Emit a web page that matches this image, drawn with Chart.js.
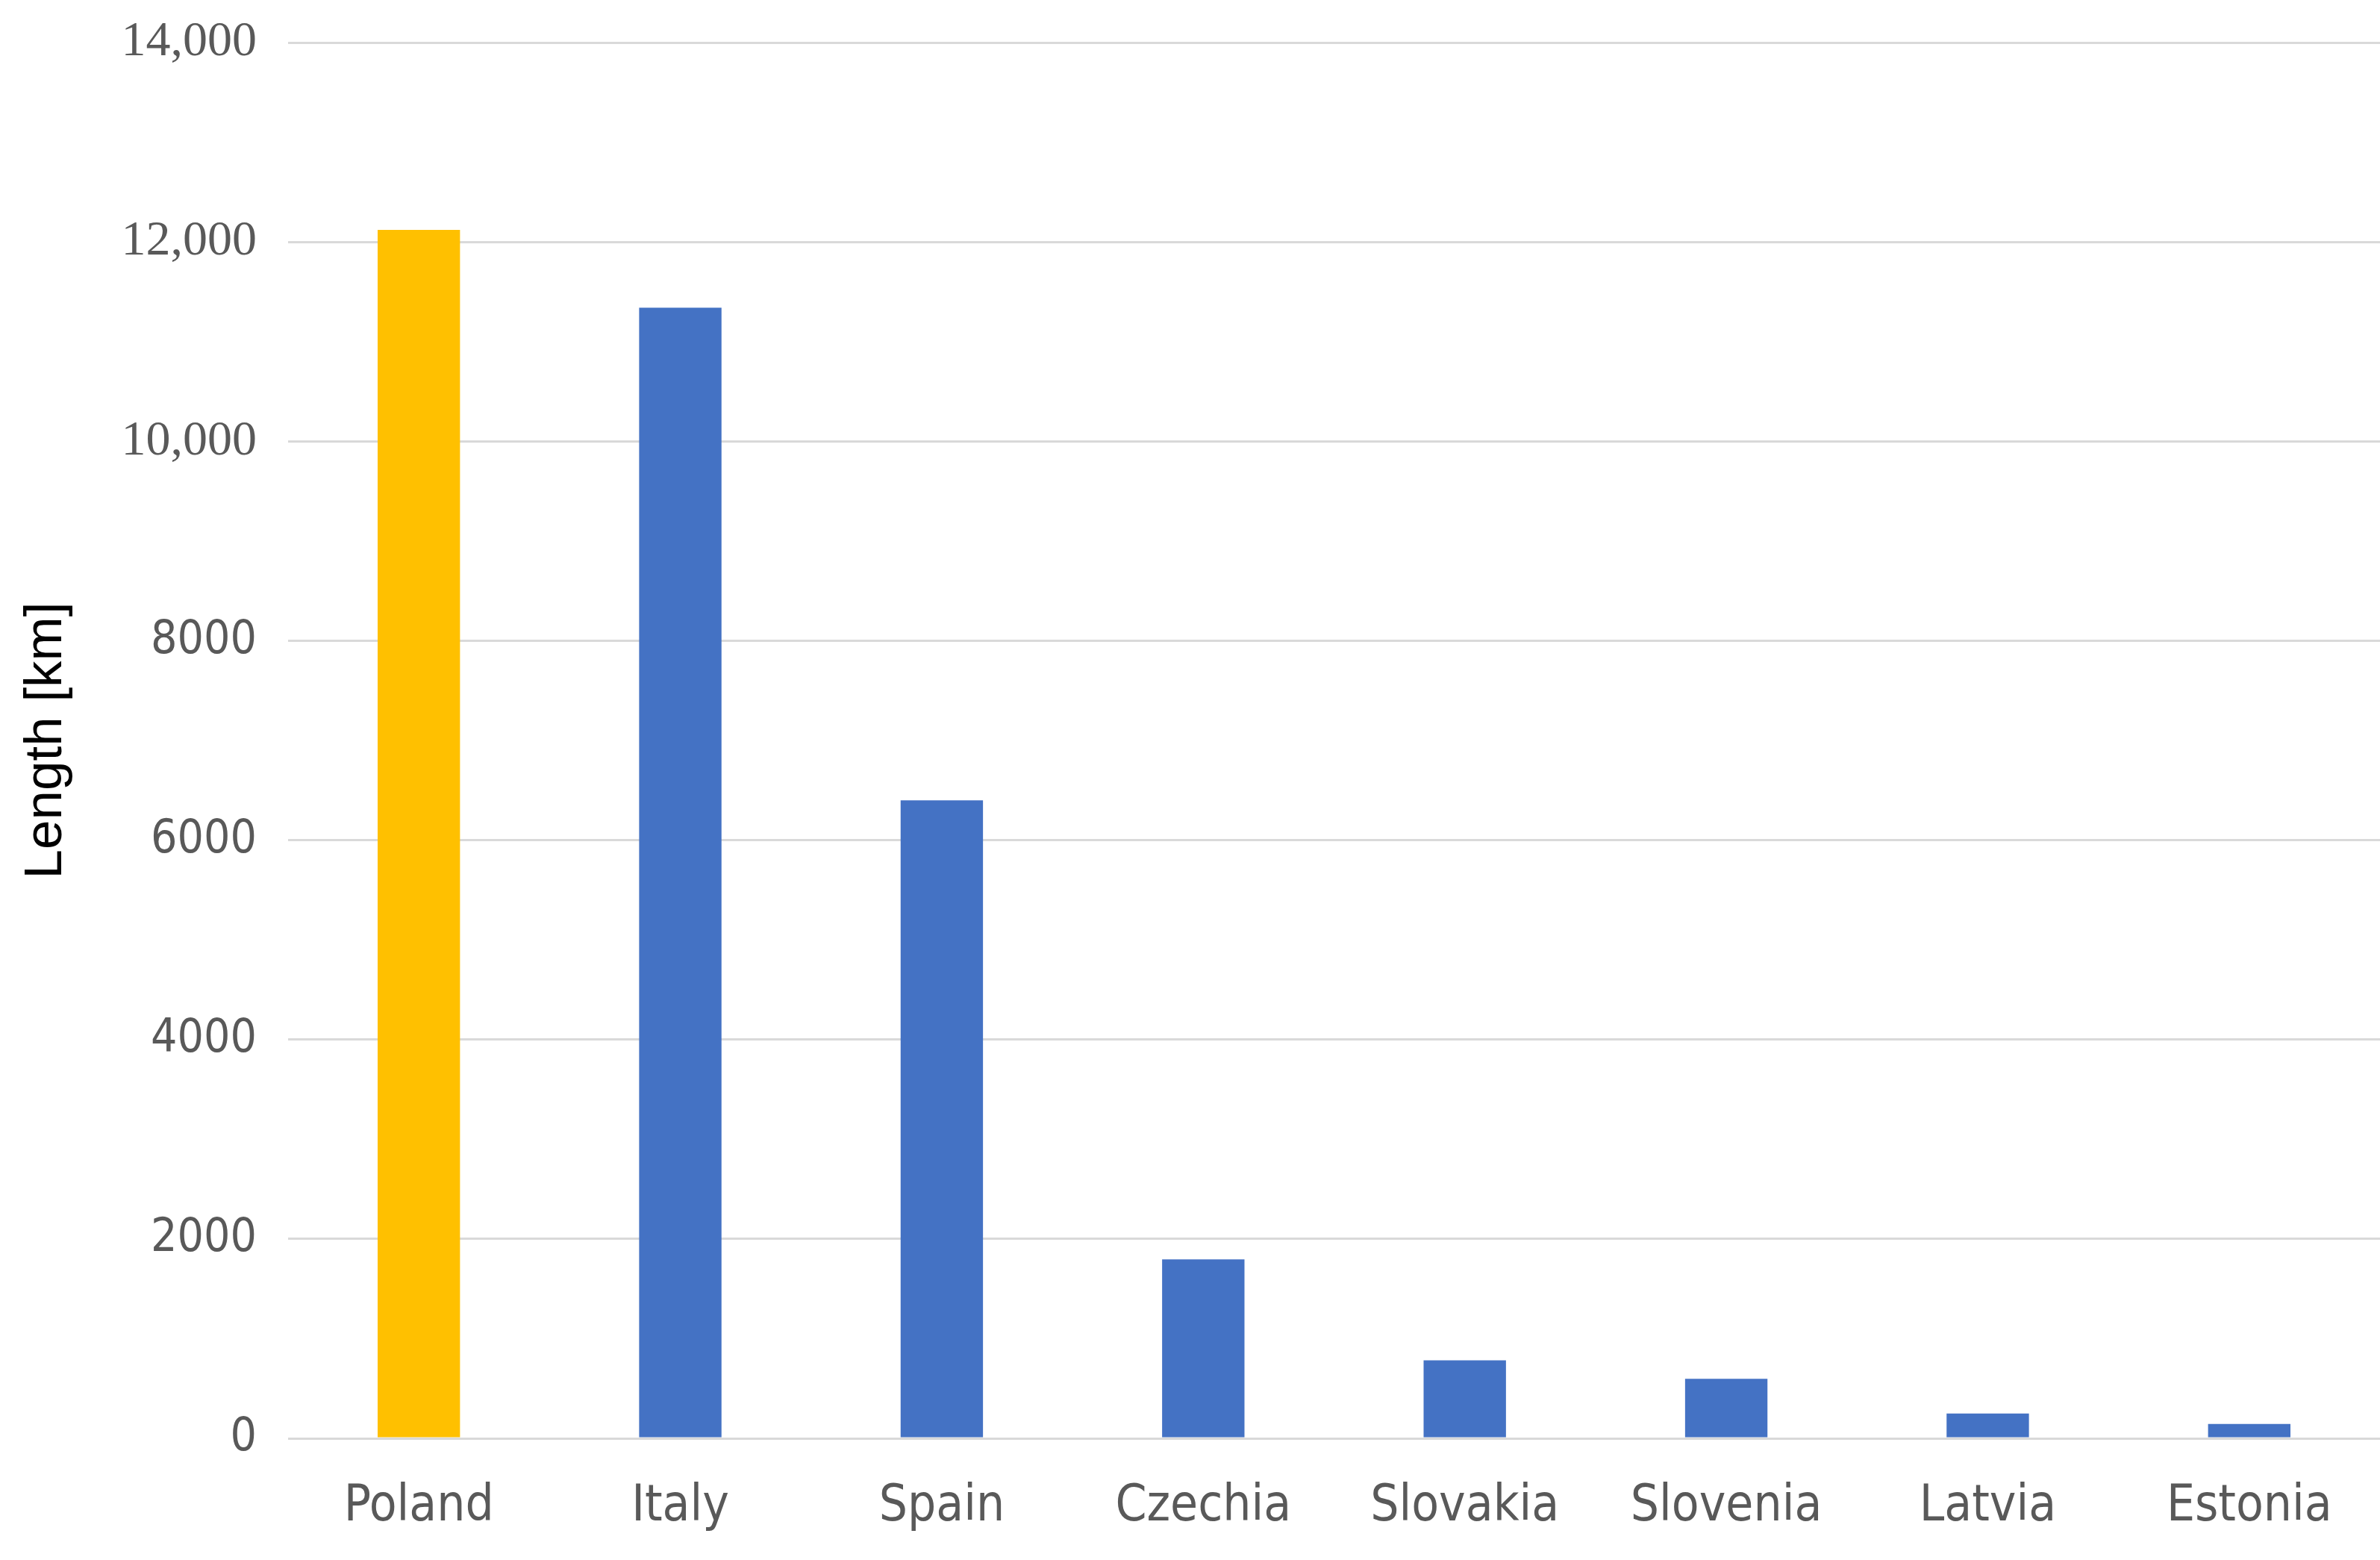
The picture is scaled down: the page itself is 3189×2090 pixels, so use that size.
<!DOCTYPE html>
<html>
<head>
<meta charset="utf-8">
<script src="https://cdn.jsdelivr.net/npm/chart.js@4"></script>
<style>
  html, body { margin: 0; padding: 0; background: #ffffff; }
  canvas { display: block; }
</style>
</head>
<body>
<canvas id="lengthChart" width="3189" height="2090"></canvas>
<script>
// Dữ liệu
const countries = ['Poland', 'Italy', 'Spain', 'Czechia', 'Slovakia', 'Slovenia', 'Latvia', 'Estonia'];
const lengthKm = [12120, 11340, 6400, 1795, 783, 597, 248, 144];
const barColors = ['#FFC000', '#4472C4', '#4472C4', '#4472C4', '#4472C4', '#4472C4', '#4472C4', '#4472C4'];
const yTickValues = [0, 2000, 4000, 6000, 8000, 10000, 12000, 14000];
const yTickLabels = ['0', '2000', '4000', '6000', '8000', '10,000', '12,000', '14,000'];

const narrowFont = "'Liberation Sans Narrow', 'DejaVu Sans Condensed', sans-serif";
const serifFont = "'Liberation Serif', 'DejaVu Serif', serif";

const ctx = document.getElementById('lengthChart').getContext('2d');
new Chart(ctx, {
    type: 'bar',
    data: {
        labels: countries,
        datasets: [{
            label: 'Length [km]',
            data: lengthKm,
            backgroundColor: barColors,
            borderWidth: 0,
            barPercentage: 0.315,
            categoryPercentage: 1
        }]
    },
    options: {
        responsive: false,
        animation: false,
        devicePixelRatio: 1,
        layout: {
            padding: { left: 0, right: 0, top: 57, bottom: 0 }
        },
        plugins: {
            legend: { display: false },
            tooltip: { enabled: false }
        },
        scales: {
            x: {
                grid: { display: false, drawTicks: false },
                border: { display: false },
                ticks: {
                    color: '#595959',
                    padding: 52,
                    maxRotation: 0,
                    font: { family: narrowFont, size: 67 }
                },
                afterFit: (axis) => { axis.height = 163; }
            },
            y: {
                min: 0,
                max: 14000,
                afterBuildTicks: (axis) => {
                    axis.ticks = yTickValues.map(v => ({ value: v }));
                },
                grid: {
                    color: '#D9D9D9',
                    lineWidth: 3,
                    drawTicks: false
                },
                border: { display: false },
                ticks: {
                    color: '#595959',
                    padding: 42,
                    callback: (value) => yTickLabels[yTickValues.indexOf(value)],
                    font: (c) => {
                        const v = c.tick ? c.tick.value : 0;
                        return v >= 10000
                            ? { family: serifFont, size: 66 }
                            : { family: narrowFont, size: 62 };
                    }
                },
                title: {
                    display: true,
                    text: 'Length [km]',
                    color: '#000000',
                    padding: { top: 20, bottom: 0 },
                    font: { family: "'Liberation Sans', Arial, sans-serif", size: 71 }
                },
                afterFit: (axis) => {
                    axis.width = 386;
                    // nhãn trên cùng không được đẩy vùng vẽ xuống
                    axis.paddingTop = 0;
                    axis.paddingBottom = 0;
                }
            }
        }
    }
});
</script>
</body>
</html>
